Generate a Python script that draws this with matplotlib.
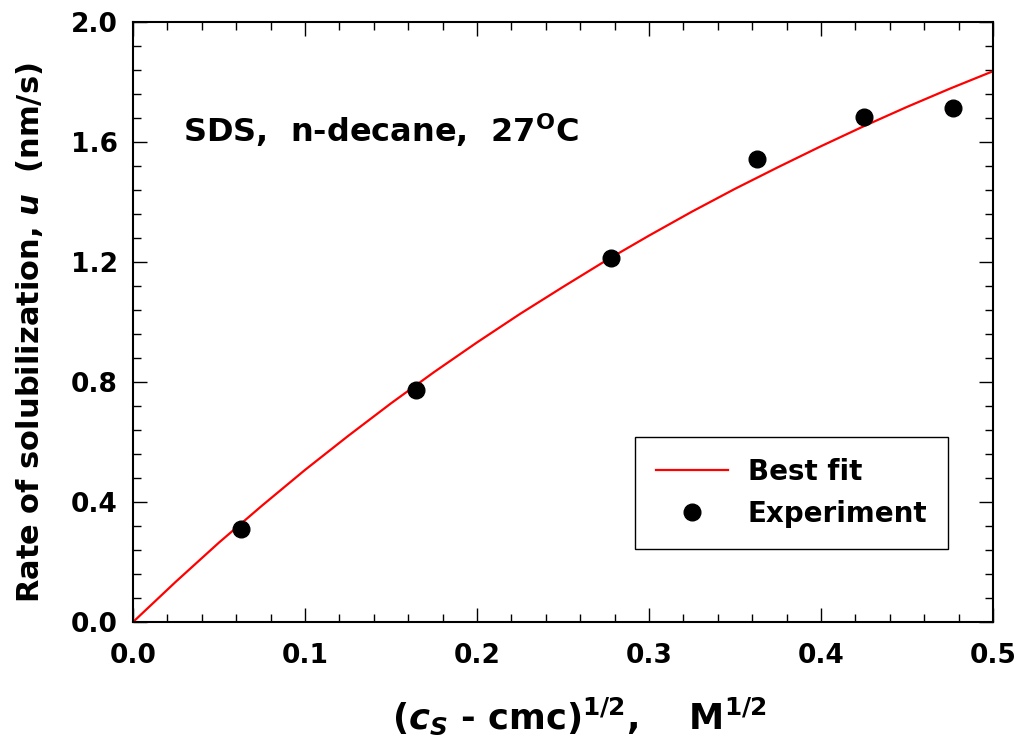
import matplotlib
matplotlib.use("Agg")
import matplotlib.pyplot as plt
from matplotlib.ticker import MultipleLocator

plt.rcParams['font.family'] = ['DejaVu Sans']
plt.rcParams['font.weight'] = 'bold'
plt.rcParams['axes.labelweight'] = 'bold'
plt.rcParams['mathtext.fontset'] = 'custom'
plt.rcParams['mathtext.rm'] = 'DejaVu Sans:bold'
plt.rcParams['mathtext.it'] = 'DejaVu Sans:bold:oblique'
plt.rcParams['mathtext.bf'] = 'DejaVu Sans:bold'

# experiment
x_exp = [0.063, 0.1647, 0.278, 0.3628, 0.4252, 0.4769]
u_exp = [0.311, 0.772, 1.214, 1.544, 1.684, 1.714]

# best fit curve
x_fit = [0, 0.025, 0.05, 0.075, 0.1, 0.125, 0.15, 0.175, 0.2, 0.225, 0.25,
         0.275, 0.3, 0.325, 0.35, 0.375, 0.4, 0.425, 0.45, 0.475, 0.5]
u_fit = [0, 0.135, 0.265, 0.388, 0.507, 0.620, 0.729, 0.833, 0.932, 1.027, 1.117,
         1.205, 1.288, 1.368, 1.444, 1.516, 1.586, 1.653, 1.717, 1.778, 1.836]

fig = plt.figure(figsize=(10.2, 7.54), dpi=100)
ax = fig.add_axes([0.1304, 0.175, 0.8431, 0.7958])

ax.plot(x_fit, u_fit, color='red', lw=1.6, label='Best fit')
ax.plot(x_exp, u_exp, 'o', color='black', ms=12, label='Experiment')

ax.set_xlim(0, 0.5)
ax.set_ylim(0, 2.0)
ax.xaxis.set_major_locator(MultipleLocator(0.1))
ax.xaxis.set_minor_locator(MultipleLocator(0.02))
ax.yaxis.set_major_locator(MultipleLocator(0.4))
ax.yaxis.set_minor_locator(MultipleLocator(0.08))
ax.xaxis.set_major_formatter(plt.FormatStrFormatter('%.1f'))
ax.yaxis.set_major_formatter(plt.FormatStrFormatter('%.1f'))

ax.tick_params(which='both', direction='in', top=True, right=True, width=1)
ax.tick_params(which='major', length=10, labelsize=19)
ax.tick_params(axis='x', which='major', pad=15)
ax.tick_params(axis='y', which='major', pad=11)
ax.tick_params(which='minor', length=6)
for s in ax.spines.values():
    s.set_linewidth(1.5)

ax.set_xlabel(r"($c_S$ - cmc)$^{\mathrm{1/2}}$,    M$^{\mathrm{1/2}}$", fontsize=25.5)
ax.xaxis.set_label_coords(0.519, -0.123)
ax.set_ylabel(r"Rate of solubilization, $u$  (nm/s)", fontsize=22)
ax.yaxis.set_label_coords(-0.102, 0.483)

ax.text(0.058, 0.82, r"SDS,  n-decane,  27$^{\mathrm{O}}$C", transform=ax.transAxes,
        fontsize=23, va='center')

leg = ax.legend(loc='lower left', bbox_to_anchor=(0.584, 0.122), borderaxespad=0,
                fontsize=20, handlelength=2.6, handletextpad=0.7, labelspacing=0.5,
                borderpad=0.75, fancybox=False, edgecolor='black', framealpha=1)
leg.get_frame().set_linewidth(1)

fig.savefig('out.png', dpi=100)
